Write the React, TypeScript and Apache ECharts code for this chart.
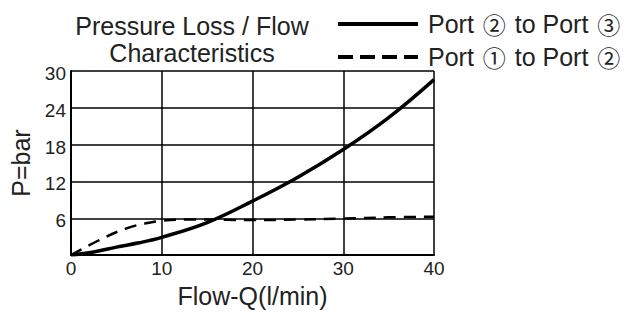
import React, { useEffect, useRef } from "react";
import * as echarts from "echarts";

const flow = [0, 2.5, 5, 7.5, 10, 15, 20, 25, 30, 35, 40];
const port2to3 = [0, 0.5, 1.3, 2.0, 2.9, 5.3, 8.8, 12.7, 17.2, 22.4, 28.6];
const flowDashed = [0, 3.6, 6.2, 8, 10, 13.5, 17, 20, 25, 30, 35, 40];
const port1to2 = [0, 2.8, 4.4, 5.1, 5.6, 5.8, 5.75, 5.7, 5.8, 5.95, 6.15, 6.25];
const xTicks = [0, 10, 20, 30, 40];
const yTicks = [0, 6, 12, 18, 24, 30];
const seriesNames = ["Port ② to Port ③", "Port ① to Port ②"];
const titleLines = ["Pressure Loss / Flow", "Characteristics"];

const FONT = "'Liberation Sans', Arial, sans-serif";
const CJK = "'Noto Sans CJK JP', 'Noto Sans CJK SC', sans-serif";
const TXT = "#222";

export default function App() {
  const ref = useRef<HTMLDivElement>(null);
  useEffect(() => {
    const chart = echarts.init(ref.current!, null, { renderer: "svg" });
    chart.setOption({
      animation: false,
      textStyle: { fontFamily: FONT },
      grid: { left: 70, right: 209, top: 71, bottom: 54 },
      graphic: [
        {
          type: "text",
          x: 192,
          y: 12,
          style: {
            text: titleLines.join("\n"),
            align: "center",
            fontSize: 25,
            lineHeight: 27,
            fontFamily: FONT,
            fill: TXT,
          },
        },
      ],
      legend: {
        orient: "vertical",
        left: 333,
        top: 6,
        itemWidth: 80,
        itemHeight: 4,
        itemGap: 7,
        symbolKeepAspect: false,
        formatter: (name: string) => name.replace(/([①②③])/g, "{c|$1}"),
        textStyle: {
          fontSize: 25,
          lineHeight: 26,
          color: TXT,
          fontFamily: FONT,
          padding: [0, 0, 0, 5],
          rich: {
            c: { fontFamily: CJK, fontSize: 23, lineHeight: 26, color: TXT, padding: [0, 2, 0, 2] },
          },
        },
        data: [
          { name: seriesNames[0], icon: "rect" },
          {
            name: seriesNames[1],
            icon: "path://M0,0h15v3h-15zM22,0h15v3h-15zM44,0h15v3h-15zM66,0h14v3h-14z",
          },
        ],
      },
      xAxis: {
        type: "value",
        min: 0,
        max: 40,
        interval: 10,
        name: "Flow-Q(l/min)",
        nameLocation: "middle",
        nameGap: 26,
        nameTextStyle: { fontSize: 25, color: TXT },
        axisLine: { lineStyle: { color: "#000", width: 2 } },
        axisTick: { show: false },
        axisLabel: { fontSize: 19, color: TXT, margin: 4 },
        splitLine: { show: true, lineStyle: { color: "#000", width: 1.5 } },
      },
      yAxis: {
        type: "value",
        min: 0,
        max: 30,
        interval: 6,
        name: "P=bar",
        nameLocation: "middle",
        nameGap: 38,
        nameRotate: 90,
        nameTextStyle: { fontSize: 25, color: TXT },
        axisLine: { show: true, lineStyle: { color: "#000", width: 2 } },
        axisTick: { show: false },
        axisLabel: {
          fontSize: 19,
          color: TXT,
          margin: 5,
          verticalAlign: "top",
          padding: [-7, 0, 0, 0],
          formatter: (v: number) => (v === 0 ? "" : String(v)),
        },
        splitLine: { show: true, lineStyle: { color: "#000", width: 1.5 } },
      },
      series: [
        {
          name: seriesNames[0],
          type: "line",
          smooth: 0.4,
          symbol: "none",
          data: flow.map((x, i) => [x, port2to3[i]]),
          lineStyle: { color: "#000", width: 3.5, type: "solid" },
          itemStyle: { color: "#000" },
        },
        {
          name: seriesNames[1],
          type: "line",
          smooth: 0.4,
          symbol: "none",
          data: flowDashed.map((x, i) => [x, port1to2[i]]),
          lineStyle: { color: "#000", width: 2.5, type: [12, 8] },
          itemStyle: { color: "#000" },
        },
      ],
    });
    return () => chart.dispose();
  }, []);
  return (
    <div
      ref={ref}
      style={{ position: "absolute", left: 0, top: 0, width: 643, height: 313 }}
    />
  );
}
